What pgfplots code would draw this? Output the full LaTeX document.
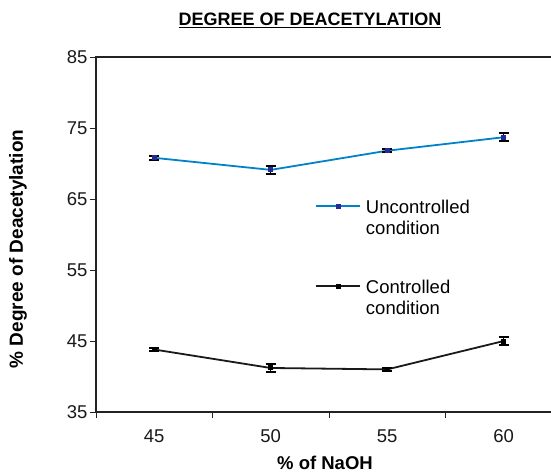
\documentclass[border=0pt]{standalone}
\usepackage{pgfplots}
\pgfplotsset{compat=1.18}
\usepackage{fontspec}
\setmainfont{Liberation Sans}
\definecolor{ublue}{RGB}{0,130,200}
\definecolor{umark}{RGB}{40,40,150}
\definecolor{axgray}{RGB}{35,35,35}
\newcommand{\fs}{\fontsize{18bp}{21bp}\selectfont}
\newcommand{\ft}{\fontsize{18.5bp}{22bp}\selectfont}
\begin{document}
\begin{tikzpicture}
\path[use as bounding box] (-96bp,-61bp) rectangle (455bp,412bp);
\begin{axis}[
  at={(0,0)}, anchor=south west,
  scale only axis, width=466bp, height=355bp,
  xmin=-0.5, xmax=3.5, ymin=35, ymax=85,
  xtick={-0.5,0.5,1.5,2.5,3.5}, xticklabels={},
  extra x ticks={0,1,2,3}, extra x tick labels={45,50,55,60},
  extra x tick style={major tick length=0pt, xticklabel style={yshift=-14bp}},
  ytick={35,45,...,85},
  tick pos=left, tick align=outside,
  major tick length=6bp,
  tick style={axgray, line width=0.8bp},
  axis line style={line width=1.3bp, axgray},
  /pgf/number format/assume math mode=true,
  tick label style={font=\ft, text=black!90},
  yticklabel style={xshift=1bp},
  xlabel={\textbf{\% of NaOH}},
  ylabel={\textbf{\% Degree of Deacetylation}},
  xlabel style={font=\ft, at={(axis description cs:229/466,-51/355)}, anchor=center},
  ylabel style={font=\fontsize{19bp}{22bp}\selectfont, at={(axis description cs:-78/466,163/355)}, anchor=center},
  title={\textbf{\underline{DEGREE OF DEACETYLATION}}},
  title style={font=\fs, at={(axis description cs:214/466,1.086)}, anchor=center},
  legend style={draw=none, fill=none, inner sep=0pt, row sep=0pt, column sep=5bp,
    at={(axis description cs:219/466,213/355)}, anchor=north west,
    font=\ft, nodes={inner sep=0pt, text height=14bp, text depth=7bp}},
  legend cell align=left,
  legend image code/.code={\draw[mark repeat=2,mark phase=2,#1] plot coordinates {(0bp,3.5bp) (22bp,3.5bp) (44bp,3.5bp)};},
  error bars/y dir=both, error bars/y explicit,
  error bars/error bar style={black, line width=1.4bp},
  error bars/error mark options={rotate=90, mark size=5bp, black, line width=1.8bp},
]
\addplot[ublue, line width=1.8bp, mark=square*, mark size=1.6bp, mark options={umark, solid}]
  coordinates {(0,70.8) +- (0,0.3) (1,69.1) +- (0,0.6) (2,71.8) +- (0,0.2) (3,73.7) +- (0,0.55)};
\addlegendentry{Uncontrolled}
\addlegendimage{empty legend}
\addlegendentry{condition}
\addlegendimage{empty legend}
\addlegendentry[text height=31bp]{}
\addplot[black!90, line width=1.8bp, mark=square*, mark size=1.6bp, mark options={black, solid}]
  coordinates {(0,43.8) +- (0,0.2) (1,41.2) +- (0,0.6) (2,41.0) +- (0,0.2) (3,45.0) +- (0,0.6)};
\addlegendentry{Controlled}
\addlegendimage{empty legend}
\addlegendentry{condition}
\end{axis}
\end{tikzpicture}
\end{document}
